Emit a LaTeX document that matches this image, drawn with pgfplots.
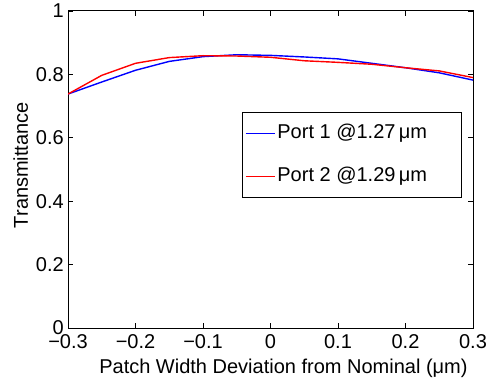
\documentclass[border=0pt]{standalone}
\usepackage{fontspec}
\setmainfont{Liberation Sans}
\usepackage{pgfplots}
\pgfplotsset{compat=1.18}
\begin{document}
\begin{tikzpicture}[font=\fontsize{20bp}{24bp}\selectfont]
\begin{axis}[
  name=ax,
  at={(0,0)}, anchor=south west,
  scale only axis,
  width=405bp, height=317bp,
  xmin=-0.3, xmax=0.3, ymin=0, ymax=1,
  xtick={-0.3,-0.2,-0.1,0,0.1,0.2,0.3},
  xticklabels={−0.3,−0.2,−0.1,0,0.1,0.2,0.3},
  ytick={0,0.2,0.4,0.6,0.8,1},
  yticklabels={0,0.2,0.4,0.6,0.8,1},
  tick align=inside,
  xtick pos=both, ytick pos=both,
  major tick length=5bp,
  axis line style={line width=1bp, black},
  every tick/.style={black, line width=0.9bp},
  xticklabel style={anchor=base, inner sep=0pt, yshift=-20bp},
  yticklabel style={anchor=east, inner sep=0pt, xshift=-4bp},
  xlabel={Patch Width Deviation from Nominal (μm)},
  ylabel={Transmittance},
  xlabel style={at={(axis description cs:0.532,-0.142)}, anchor=base, inner sep=0pt},
  ylabel style={at={(axis description cs:-0.099,0.514)}, anchor=base, inner sep=0pt},
  legend style={at={(axis description cs:0.4296,0.681)}, anchor=north west,
    draw=black, line width=0.8bp, inner xsep=3bp, inner ysep=9bp,
    row sep=19bp, column sep=0bp,
    nodes={inner xsep=2bp, inner ysep=3bp, text height=14bp, text depth=4bp}},
  legend cell align=left,
  legend image code/.code={\draw[#1, line width=1bp] (0bp,0bp) -- (29bp,0bp);},
]
\addplot[color=blue, line width=1.4bp] coordinates {
(-0.30,0.738) (-0.25,0.776) (-0.20,0.813) (-0.15,0.841) (-0.10,0.856)
(-0.05,0.862) (0.00,0.860) (0.05,0.855) (0.10,0.849) (0.15,0.835)
(0.20,0.821) (0.25,0.805) (0.30,0.782)};
\addlegendentry{\makebox[179bp][l]{Port 1 @1.27\,μm}}
\addplot[color=red, line width=1.4bp] coordinates {
(-0.30,0.738) (-0.25,0.797) (-0.20,0.835) (-0.15,0.853) (-0.10,0.859)
(-0.05,0.858) (0.00,0.854) (0.05,0.843) (0.10,0.838) (0.15,0.832)
(0.20,0.821) (0.25,0.811) (0.30,0.790)};
\addlegendentry{\makebox[179bp][l]{Port 2 @1.29\,μm}}
\end{axis}
\pgfresetboundingbox
\path ([shift={(-68bp,-51bp)}]ax.south west) rectangle ([shift={(17bp,11bp)}]ax.north east);
\end{tikzpicture}
\end{document}
